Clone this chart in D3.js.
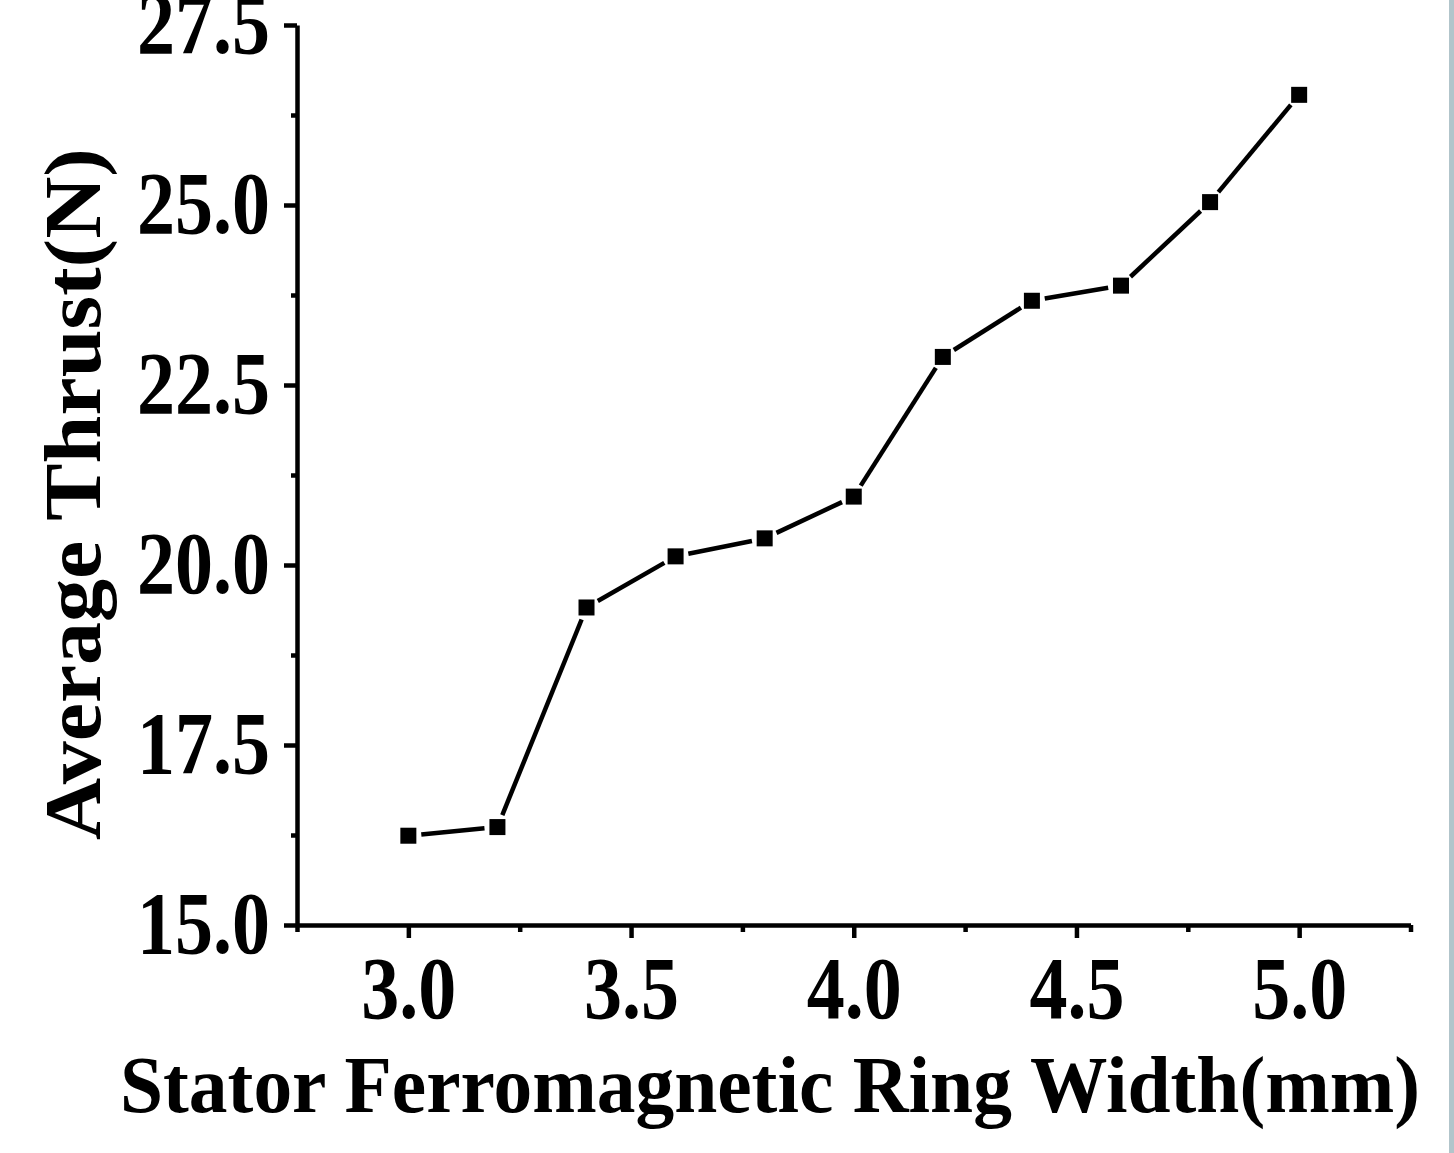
<!DOCTYPE html>
<html>
<head>
<meta charset="utf-8">
<script src="https://cdn.jsdelivr.net/npm/d3@7"></script>
<style>
  body { margin: 0; background: #fff; }
  text { font-family: "Liberation Serif", "Times New Roman", serif; font-weight: bold; }
</style>
</head>
<body>
<div id="chart"></div>
<script>
const WIDTH = 1454;
const HEIGHT = 1153;

// data
const widths = [3.0, 3.2, 3.4, 3.6, 3.8, 4.0, 4.2, 4.4, 4.6, 4.8, 5.0];
const thrust = [16.24, 16.36, 19.41, 20.12, 20.37, 20.95, 22.89, 23.67, 23.88, 25.04, 26.53];
const xTicks = [3.0, 3.5, 4.0, 4.5, 5.0];
const xMinor = [2.75, 3.25, 3.75, 4.25, 4.75, 5.25];
const yTicks = [15.0, 17.5, 20.0, 22.5, 25.0, 27.5];
const yMinor = [16.25, 18.75, 21.25, 23.75, 26.25];

const STRETCH = 1.16; // labels look vertically stretched

let svg = d3.select("#chart")
  .append("svg")
    .attr("width", WIDTH)
    .attr("height", HEIGHT);

let x = d3.scaleLinear().domain([2.75, 5.25]).range([297, 1410.5]);
let y = d3.scaleLinear().domain([15, 27.5]).range([925, 25]);

// right edge strip
svg.append("rect")
  .attr("x", 1449).attr("y", 0)
  .attr("width", 5).attr("height", HEIGHT)
  .attr("fill", "#b2c5cb");

// x axis
let xMinorG = svg.append("g")
  .attr("transform", "translate(0,925)")
  .call(d3.axisBottom(x).tickValues(xMinor).tickSize(7).tickSizeOuter(0).tickFormat(""));
xMinorG.select(".domain").remove();

let xAxis = svg.append("g")
  .attr("transform", "translate(0,925)")
  .call(d3.axisBottom(x).tickValues(xTicks).tickSize(13).tickSizeOuter(0)
    .tickFormat(d3.format(".1f")));

xAxis.selectAll("text")
  .attr("y", 93 / STRETCH)
  .attr("dy", null)
  .attr("transform", "scale(1," + STRETCH + ")")
  .attr("font-size", 76)
  .attr("fill", "#000");

// y axis
let yMinorG = svg.append("g")
  .attr("transform", "translate(297,0)")
  .call(d3.axisLeft(y).tickValues(yMinor).tickSize(6).tickSizeOuter(0).tickFormat(""));
yMinorG.select(".domain").remove();

let yAxis = svg.append("g")
  .attr("transform", "translate(297,0)")
  .call(d3.axisLeft(y).tickValues(yTicks).tickSize(13).tickSizeOuter(0)
    .tickFormat(d3.format(".1f")));

yAxis.selectAll("text")
  .attr("x", -27)
  .attr("y", 27 / STRETCH)
  .attr("dy", null)
  .attr("transform", "scale(1," + STRETCH + ")")
  .attr("font-size", 76)
  .attr("fill", "#000");

svg.selectAll(".domain, .tick line")
  .attr("stroke", "#000")
  .attr("stroke-width", 4.5);

// line segments, cut short near the markers
const GAP = 13;
let segs = d3.pairs(d3.zip(widths, thrust)).map(([a, b]) => {
  let x1 = x(a[0]), y1 = y(a[1]), x2 = x(b[0]), y2 = y(b[1]);
  let len = Math.hypot(x2 - x1, y2 - y1);
  let ux = (x2 - x1) / len, uy = (y2 - y1) / len;
  return [x1 + ux * GAP, y1 + uy * GAP, x2 - ux * GAP, y2 - uy * GAP];
});

svg.append("g").selectAll("line")
  .data(segs)
  .join("line")
    .attr("x1", d => d[0]).attr("y1", d => d[1])
    .attr("x2", d => d[2]).attr("y2", d => d[3])
    .attr("stroke", "#000")
    .attr("stroke-width", 4.5);

// square markers
svg.append("g").selectAll("rect")
  .data(widths)
  .join("rect")
    .attr("x", (d, i) => x(d) - 8)
    .attr("y", (d, i) => y(thrust[i]) - 8)
    .attr("width", 16)
    .attr("height", 16)
    .attr("fill", "#000");

// axis titles
svg.append("text")
  .attr("x", 770)
  .attr("y", 1112)
  .attr("text-anchor", "middle")
  .attr("font-size", 80)
  .attr("textLength", 1300)
  .attr("lengthAdjust", "spacingAndGlyphs")
  .text("Stator Ferromagnetic Ring Width(mm)");

svg.append("text")
  .attr("transform", "translate(100,494) rotate(-90)")
  .attr("text-anchor", "middle")
  .attr("font-size", 80)
  .attr("textLength", 692)
  .attr("lengthAdjust", "spacingAndGlyphs")
  .text("Average Thrust(N)");
</script>
</body>
</html>
